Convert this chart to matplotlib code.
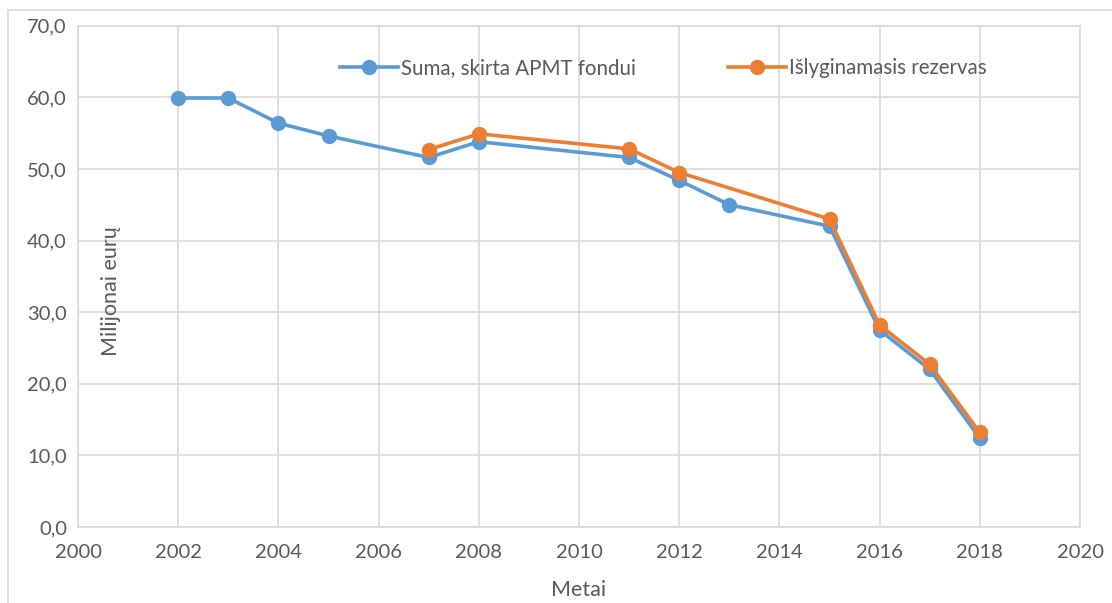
import matplotlib
matplotlib.use("Agg")
import matplotlib.pyplot as plt
from matplotlib.ticker import FuncFormatter, MultipleLocator
from matplotlib.patches import Rectangle

years_blue = [2002, 2003, 2004, 2005, 2007, 2008, 2011, 2012, 2013, 2015, 2016, 2017, 2018]
values_blue = [59.9, 59.9, 56.4, 54.6, 51.6, 53.8, 51.6, 48.4, 45.0, 42.0, 27.5, 22.0, 12.4]
years_orange = [2007, 2008, 2011, 2012, 2015, 2016, 2017, 2018]
values_orange = [52.7, 54.9, 52.8, 49.5, 43.0, 28.2, 22.7, 13.2]
label_blue = "Suma, skirta APMT fondui"
label_orange = "Išlyginamasis rezervas"

plt.rcParams['font.family'] = ['Lato', 'DejaVu Sans']
txt = '#595959'
grid = '#d9d9d9'

fig = plt.figure(figsize=(11.12, 6.03), dpi=100)
fig.patches.append(Rectangle((8/1112, -0.01), 1.2, 1 - 10/603 + 0.01, transform=fig.transFigure,
                             fill=False, edgecolor=grid, linewidth=1.2))
ax = fig.add_axes([78/1112, 76/603, 1002/1112, (527-25.7)/603])

ax.plot(years_blue, values_blue, color='#5B9BD5', lw=2.6, marker='o', ms=10, label=label_blue, zorder=3)
ax.plot(years_orange, values_orange, color='#ED7D31', lw=2.6, marker='o', ms=10, label=label_orange, zorder=4)

ax.set_xlim(2000, 2020)
ax.set_ylim(0, 70)
ax.xaxis.set_major_locator(MultipleLocator(2))
ax.yaxis.set_major_locator(MultipleLocator(10))
ax.yaxis.set_major_formatter(FuncFormatter(lambda v, p: f"{v:.1f}".replace('.', ',')))
ax.grid(True, color=grid, lw=1.2)
ax.set_axisbelow(True)
for s in ax.spines.values():
    s.set_color(grid)
    s.set_linewidth(1.2)
ax.tick_params(length=0, labelsize=14.5, labelcolor=txt)
ax.tick_params(axis='x', pad=12)
ax.tick_params(axis='y', pad=8)

ax.set_xlabel("Metai", fontsize=15.5, color=txt, labelpad=14)
ax.text(0.033, 0.47, "Milijonai eurų", transform=ax.transAxes, rotation=90, fontsize=15.5,
        color=txt, ha='center', va='center')

leg = ax.legend(loc='center left', bbox_to_anchor=((340-78)/1002, (527-68)/501.3), ncol=2, frameon=False,
                fontsize=14.8, labelcolor=txt, handlelength=2.8, columnspacing=4.5,
                handletextpad=0.15, borderpad=0, borderaxespad=0)

fig.savefig("out.png", dpi=100)
